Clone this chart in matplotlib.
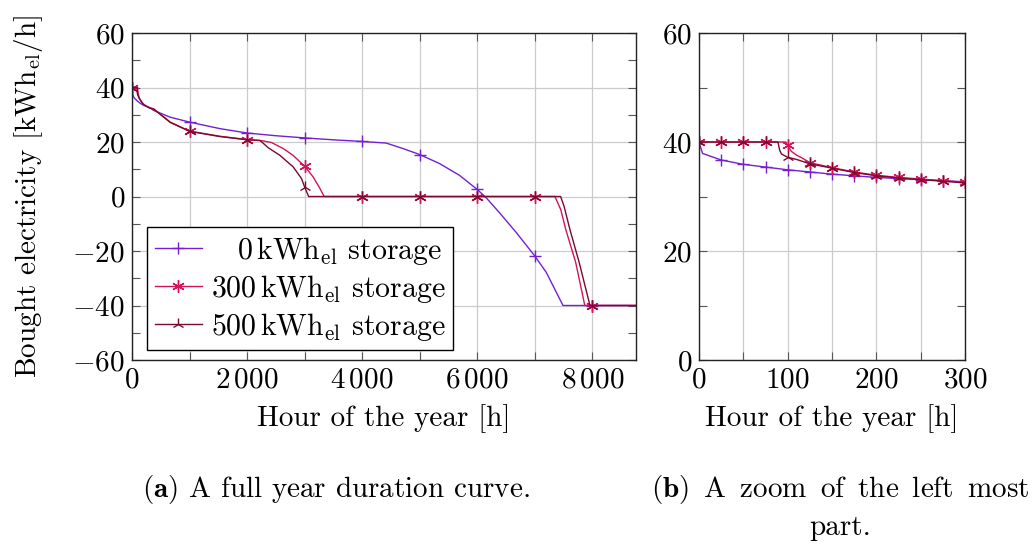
import matplotlib
matplotlib.use("Agg")
import matplotlib.pyplot as plt
from matplotlib.ticker import MultipleLocator
import numpy as np

plt.rcParams['font.family'] = 'serif'
plt.rcParams['font.serif'] = ['cmr10']
plt.rcParams['mathtext.fontset'] = 'cm'
plt.rcParams['axes.formatter.use_mathtext'] = True
plt.rcParams['axes.unicode_minus'] = True

# ---------------- data ----------------
hours_0 = [0, 4, 25, 50, 75, 100, 125, 150, 175, 200, 225, 250, 275, 300, 375, 664,
           1000, 1530, 2000, 2500, 3000, 3500, 4000, 4420, 4709, 5000, 5344, 5690,
           6000, 6162, 6393, 6682, 7000, 7202, 7491, 8000, 8760]
bought_0 = [40, 37.9, 36.7, 35.9, 35.4, 34.9, 34.5, 34.1, 33.8, 33.5, 33.3, 33.1, 32.9, 32.7,
            31.6, 29.1, 27.3, 24.9, 23.3, 22.3, 21.5, 20.8, 20.2, 19.6, 17.6, 15.4, 12.1, 7.8,
            2.6, -0.6, -6.1, -13.3, -21.8, -27.9, -40, -40, -40]

hours_300 = [0, 25, 50, 75, 98, 100, 104, 110, 117, 125, 150, 175, 200, 225, 250, 275, 300,
             375, 664, 1000, 1530, 2000, 2280, 2425, 2628, 2800, 3000, 3148, 3252, 3340,
             4000, 5000, 6000, 7000, 7350, 7452, 7539, 7712, 7870, 8000, 8760]
bought_300 = [40, 40, 40, 40, 40, 39.4, 38.3, 37.6, 37.0, 36.2, 35.3, 34.5, 33.9, 33.5, 33.2,
              32.9, 32.6, 32.2, 27.3, 24.0, 22.1, 20.9, 20.4, 19.8, 17.6, 15.1, 11.1, 7.2, 3.5,
              0, 0, 0, 0, 0, 0, -4.8, -12.1, -24.2, -40, -40, -40]

hours_500 = [0, 25, 50, 75, 89, 91, 93, 100, 110, 125, 150, 175, 200, 225, 250, 275, 300,
             375, 664, 1000, 1530, 2000, 2224, 2368, 2571, 2800, 2946, 3000, 3070,
             4000, 5000, 6000, 7000, 7450, 7510, 7610, 7770, 7960, 8000, 8760]
bought_500 = [40, 40, 40, 40, 40, 38.5, 37.8, 37.2, 36.8, 36.0, 35.2, 34.4, 33.8, 33.4, 33.1,
              32.8, 32.5, 32.1, 27.2, 23.9, 22.0, 20.8, 20.6, 17.9, 15.1, 10.9, 6.6, 3.5, 0,
              0, 0, 0, 0, 0, -3.6, -12, -24, -40, -40, -40]

labels = [r'$\hspace{1.0}0\,\mathrm{kWh}_{\mathrm{el}}$ storage',
          r'$300\,\mathrm{kWh}_{\mathrm{el}}$ storage',
          r'$500\,\mathrm{kWh}_{\mathrm{el}}$ storage']
colors = ['#7420d0', '#d4145a', '#7a0a2a']
markers = ['+', (6, 2, 0), '2']

left_xticks = [0, 1000, 2000, 3000, 4000, 5000, 6000, 7000, 8000]
left_xlabels = [r'$0$', '', r'$2\,000$', '', r'$4\,000$', '', r'$6\,000$', '', r'$8\,000$']
left_yticks = [-60, -40, -20, 0, 20, 40, 60]
right_xticks = [0, 50, 100, 150, 200, 250, 300]
right_xlabels = [r'$0$', '', r'$100$', '', r'$200$', '', r'$300$']
right_yticks = [0, 20, 40, 60]

series = [(hours_0, bought_0), (hours_300, bought_300), (hours_500, bought_500)]

W, H = 1035, 547
fig = plt.figure(figsize=(W / 100, H / 100), dpi=100)
FS = 21

axL = fig.add_axes([132 / W, 1 - 360 / H, (636 - 132) / W, (360 - 33) / H])
axR = fig.add_axes([699 / W, 1 - 360 / H, (965 - 699) / W, (360 - 33) / H])


def style(ax, xticks, xlabels, yticks):
    ax.set_xticks(xticks)
    ax.set_xticklabels(xlabels, fontsize=FS)
    ax.set_yticks(yticks)
    ax.set_yticklabels([r'$%d$' % v for v in yticks], fontsize=FS)
    ax.yaxis.set_minor_locator(MultipleLocator(10))
    ax.grid(True, which='major', color='#cccccc', lw=0.9)
    ax.set_axisbelow(True)
    ax.tick_params(which='both', direction='in', top=True, right=True,
                   color='#555555', width=0.8, pad=5)
    ax.tick_params(which='major', length=6)
    ax.tick_params(which='minor', length=6)
    for s in ax.spines.values():
        s.set_color('#222222')
        s.set_linewidth(1.0)
    ax.set_xlabel('Hour of the year [h]', fontsize=FS, labelpad=8)


for (h, v), lab, c, m in zip(series, labels, colors, markers):
    h = np.asarray(h)
    idxL = [i for i, x in enumerate(h) if x % 1000 == 0]
    idxR = [i for i, x in enumerate(h) if x % 25 == 0 and x <= 300]
    axL.plot(h, v, color=c, lw=1.0, marker=m, markevery=idxL, ms=9, mew=1.0, label=lab)
    axR.plot(h, v, color=c, lw=1.0, marker=m, markevery=idxR, ms=9, mew=1.0)

axL.set_xlim(0, 8760)
axL.set_ylim(-60, 60)
axR.set_xlim(0, 300)
axR.set_ylim(0, 60)
style(axL, left_xticks, left_xlabels, left_yticks)
style(axR, right_xticks, right_xlabels, right_yticks)

axL.set_ylabel(r'Bought electricity [kWh$_{\mathrm{el}}$/h]', fontsize=FS, labelpad=20)

leg = axL.legend(loc='lower left', bbox_to_anchor=(0.03, 0.03), borderaxespad=0,
                 fontsize=FS + 0.5, frameon=True, fancybox=False, framealpha=1,
                 edgecolor='black', handlelength=1.6, handletextpad=0.3,
                 labelspacing=0.2, borderpad=0.25)
leg.get_frame().set_linewidth(1.0)

fig.text(336 / W, 1 - 490 / H, r'$\mathbf{(a)}$ A full year duration curve.',
         fontsize=FS, ha='center', va='center')
fig.text(651 / W, 1 - 490 / H,
         r'$\mathbf{(b)}\,$ A$\,$ zoom$\,$ of$\,$ the$\,$ left$\,$ most',
         fontsize=FS, ha='left', va='center')
fig.text(840 / W, 1 - 528 / H, 'part.', fontsize=FS, ha='center', va='center')

fig.savefig('out.png', dpi=100)
